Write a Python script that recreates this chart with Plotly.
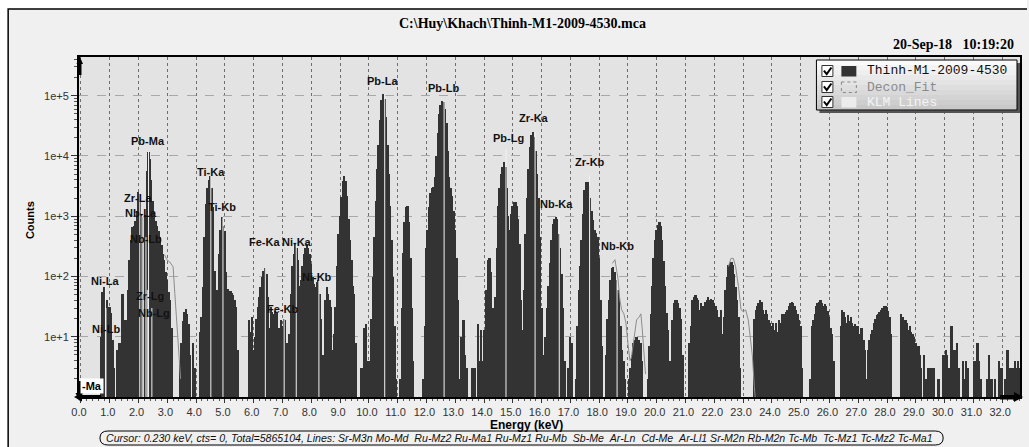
import numpy as np
import plotly.graph_objects as go

# ---------------------------------------------------------------- data
CHANNEL_WIDTH_KEV = 0.05   # display channel width (keV)

# counts per 0.05 keV channel
counts_0_4kev = [
    0, 0, 0, 0, 0, 0, 0, 0, 0, 0, 0, 0, 0, 0, 10, 56, 66, 63, 40, 28,
    31, 25, 9, 3, 0, 6, 5, 8, 3, 51, 12, 19, 4, 60, 190, 400, 660, 700, 850, 1200,
    2500, 1800, 1100, 960, 1000, 1050, 5700, 11500, 9000, 4000, 1800, 1000, 820, 700, 580, 450, 330, 240, 185, 120,
    86, 55, 40, 14, 0, 0, 0, 0, 0, 4, 8, 18, 26, 29, 24, 16, 5, 0, 8, 3,
]
counts_4_8kev = [
    0, 0, 0, 12, 21, 66, 450, 1600, 3000, 4000, 4700, 3000, 1400, 125, 10, 60, 240, 600, 960, 700,
    580, 120, 62, 56, 58, 54, 50, 40, 31, 6, 0, 0, 0, 0, 0, 0, 0, 19, 12, 21,
    6, 10, 20, 31, 45, 66, 100, 125, 141, 110, 45, 14, 31, 26, 24, 27, 25, 10, 14, 19,
    15, 20, 19, 8, 5, 11, 51, 150, 240, 340, 300, 185, 70, 86, 150, 240, 300, 350, 300, 240,
]
counts_8_12kev = [
    160, 98, 75, 66, 80, 86, 51, 20, 5, 0, 40, 66, 51, 40, 31, 6, 11, 31, 150, 500,
    1000, 2050, 3900, 4700, 3800, 2200, 900, 400, 185, 70, 51, 8, 0, 0, 0, 3, 0, 14, 16, 4,
    4, 2, 20, 100, 450, 1800, 6000, 15000, 40000, 85000, 105000, 90000, 45000, 15000, 5000, 1500, 400, 100, 15, 2,
    0, 0, 2, 30, 250, 800, 1400, 1500, 800, 200, 30, 4, 0, 0, 0, 0, 0, 0, 2, 15,
]
counts_12_16kev = [
    300, 600, 1450, 2400, 2900, 3100, 4500, 10000, 24000, 50000, 70000, 83000, 80000, 60000, 35000, 12000, 4500, 3000, 2200, 1200,
    600, 200, 40, 2, 10, 10, 19, 5, 3, 0, 0, 0, 3, 3, 3, 0, 16, 4, 13, 4,
    13, 10, 60, 190, 200, 120, 30, 13, 46, 300, 1500, 3000, 5000, 6600, 8000, 6500, 3000, 1000, 600, 1100,
    1500, 1740, 1700, 1500, 900, 350, 40, 13, 60, 500, 2000, 6000, 14000, 22000, 25000, 21000, 12000, 5000, 2000, 450,
]
counts_16_20kev = [
    30, 5, 2, 10, 30, 70, 165, 400, 750, 900, 980, 900, 500, 300, 112, 30, 4, 1, 0, 3,
    10, 8, 0, 0, 2, 15, 60, 150, 400, 1100, 2700, 3700, 3750, 3200, 2000, 1200, 870, 600, 520, 460,
    200, 40, 7, 0, 0, 5, 20, 40, 87, 140, 145, 120, 87, 60, 46, 15, 6, 4, 2, 0,
    1, 2, 3, 5, 8, 9, 10, 9, 9, 8, 4, 1, 0, 0, 2, 7, 24, 70, 200, 400,
]
counts_20_24kev = [
    600, 715, 810, 700, 400, 180, 70, 25, 13, 4, 2, 19, 36, 41, 40, 36, 30, 20, 5, 0,
    0, 0, 0, 8, 15, 41, 46, 49, 44, 41, 28, 36, 32, 28, 38, 41, 46, 41, 43, 40,
    36, 32, 28, 21, 15, 28, 11, 21, 60, 100, 155, 170, 176, 155, 112, 68, 41, 21, 3, 1,
    0, 0, 0, 0, 0, 0, 0, 0, 20, 28, 32, 36, 41, 38, 28, 24, 28, 24, 19, 17,
]
counts_24_28kev = [
    15, 17, 13, 17, 12, 19, 17, 24, 22, 24, 26, 28, 32, 36, 38, 36, 32, 28, 24, 19,
    15, 3, 0, 0, 0, 0, 0, 2, 15, 19, 24, 32, 36, 38, 41, 37, 33, 35, 32, 27,
    21, 14, 11, 4, 0, 0, 0, 0, 15, 28, 26, 21, 17, 23, 18, 21, 17, 15, 16, 15,
    15, 11, 14, 14, 9, 6, 2, 6, 9, 11, 13, 17, 20, 23, 24, 26, 28, 30, 32, 33,
]
counts_28_33kev = [
    31, 27, 21, 11, 0, 0, 0, 0, 0, 0, 24, 21, 17, 19, 17, 13, 15, 12, 11, 10,
    8, 7, 7, 5, 3, 0, 5, 2, 2, 3, 3, 3, 3, 3, 0, 0, 2, 0, 0, 5,
    5, 6, 5, 3, 3, 15, 6, 6, 6, 8, 3, 0, 0, 4, 2, 4, 3, 0, 0, 0,
    0, 4, 4, 8, 4, 2, 0, 0, 0, 0, 2, 5, 2, 2, 0, 2, 0, 0, 4, 3,
    3, 0, 2, 2, 6, 3, 3, 2, 3, 4, 3, 4, 3,
]

# Decon_Fit segments visible above the bars (grey line)
fit_energy_a = [2.90, 3.00, 3.08, 3.15, 3.20, 3.26, 3.32, 3.36, 3.41, 3.46]
fit_counts_a = [230, 185, 175, 160, 145, 52, 19, 14, 5, 2]
fit_energy_b = [18.46, 18.55, 18.61, 18.66, 18.72, 18.78, 18.86, 18.93, 19.01, 19.07,
                19.12, 19.22, 19.30, 19.38, 19.45, 19.50, 19.56, 19.61]
fit_counts_b = [165, 190, 128, 87, 41, 28, 24, 17, 7, 4, 4.5, 11, 19, 21, 24, 13, 5, 2.4]
fit_energy_c = [22.49, 22.58, 22.66, 22.74, 22.84, 22.93, 23.01, 23.09, 23.18, 23.25, 23.32, 23.39, 23.42]
fit_counts_c = [146, 200, 200, 146, 68, 28, 26, 28, 19, 9, 5, 1.5, 1]

# KLM marker lines
klm_names = ["Ni-La", "Ni-Lb", "Zr-La", "Zr-Lb", "Nb-La", "Nb-Lb", "Zr-Lg", "Pb-Ma", "Nb-Lg",
             "Ti-Ka", "Ti-Kb", "Fe-Ka", "Fe-Kb", "Ni-Ka", "Ni-Kb", "Pb-La", "Pb-Lb", "Pb-Lg",
             "Zr-Ka", "Nb-Ka", "Zr-Kb", "Nb-Kb"]
klm_energy = [0.851, 0.868, 2.042, 2.124, 2.166, 2.257, 2.302, 2.346, 2.462,
              4.511, 4.932, 6.404, 7.058, 7.478, 8.265, 10.551, 12.614, 14.764,
              15.775, 16.615, 17.668, 18.623]
klm_height = [66, 30, 2500, 1000, 1000, 450, 60, 12000, 30,
              4700, 960, 141, 20, 350, 86, 105000, 83000, 13000,
              25000, 980, 4800, 170]

# line labels: text, energy (keV), log10(counts) of the label centre
line_labels = ["Pb-La", "Pb-Lb", "Zr-Ka", "Pb-Lg", "Zr-Kb", "Nb-Ka", "Nb-Kb", "Pb-Ma",
               "Ti-Ka", "Ti-Kb", "Zr-La", "Nb-La", "Nb-Lb", "Zr-Lg", "Nb-Lg",
               "Ni-La", "Ni-Lb", "Fe-Ka", "Ni-Ka", "Fe-Kb", "Ni-Kb"]
line_label_energy = [10.47, 12.58, 15.74, 14.84, 17.68, 16.53, 18.65, 2.32,
                     4.50, 4.89, 1.98, 2.10, 2.25, 2.39, 2.53,
                     0.83, 0.87, 6.38, 7.49, 7.00, 8.21]
line_label_log = [5.24, 5.13, 4.63, 4.30, 3.90, 3.20, 2.50, 4.25,
                  3.73, 3.15, 3.30, 3.05, 2.62, 1.68, 1.39,
                  1.93, 1.13, 2.57, 2.57, 1.46, 2.00]

x_tick_values = list(range(0, 33))
x_tick_labels = [f"{v:.1f}" for v in x_tick_values]
y_tick_values = [10, 100, 1000, 10000, 100000]
y_tick_labels = ["1e+1", "1e+2", "1e+3", "1e+4", "1e+5"]
y_minor_values = [m * 10 ** d for d in range(0, 6) for m in range(2, 10)]

spectrum_counts = (counts_0_4kev + counts_4_8kev + counts_8_12kev + counts_12_16kev +
                   counts_16_20kev + counts_20_24kev + counts_24_28kev + counts_28_33kev)
spectrum_energy = np.round(np.arange(len(spectrum_counts)) * CHANNEL_WIDTH_KEV, 2)

# ---------------------------------------------------------------- layout helpers
W, H = 1029, 447
L, R, T, B = 79, 1022, 57, 397


def X(px):
    return (px - L) / (R - L)


def Y(py):
    return (B - py) / (B - T)


SANS = "Liberation Sans"
SERIF = "Liberation Serif"
MONO = "Liberation Mono"

fig = go.Figure()

fig.add_trace(go.Bar(
    x=spectrum_energy, y=spectrum_counts, width=CHANNEL_WIDTH_KEV * 1.3,
    marker=dict(color="#333333", line=dict(width=0)),
    name="Thinh-M1-2009-4530", showlegend=False, hoverinfo="x+y"))

klm_x, klm_y = [], []
for e, h in zip(klm_energy, klm_height):
    klm_x += [e, e, None]
    klm_y += [1, h, None]
fig.add_trace(go.Scatter(x=klm_x, y=klm_y, mode="lines",
                         line=dict(color="#f2f2f2", width=1),
                         name="KLM Lines", showlegend=False, hoverinfo="skip"))

fig.add_trace(go.Scatter(
    x=fit_energy_a + [None] + fit_energy_b + [None] + fit_energy_c,
    y=fit_counts_a + [None] + fit_counts_b + [None] + fit_counts_c,
    mode="lines", line=dict(color="#8c8c8c", width=1),
    name="Decon_Fit", showlegend=False, connectgaps=False))

annotations = []
for t, e, lg in zip(line_labels, line_label_energy, line_label_log):
    annotations.append(dict(x=e, y=lg, xref="x", yref="y", text=f"<b>{t}</b>",
                            showarrow=False, font=dict(family=SANS, size=11, color="#111")))


def pann(px, py, text, size=11, family=SANS, color="#000", xanchor="center", **kw):
    d = dict(x=X(px), y=Y(py), xref="paper", yref="paper", text=text, showarrow=False,
             xanchor=xanchor, yanchor="middle", font=dict(family=family, size=size, color=color))
    d.update(kw)
    annotations.append(d)


pann(523, 24, r"<b>C:\Huy\Khach\Thinh-M1-2009-4530.mca</b>", size=14, family=SERIF)
pann(1018, 45, "<b>20-Sep-18 \u00a0\u00a010:19:20</b>", size=14, family=SERIF, xanchor="right")
pann(30, 220, "<b>Counts</b>", size=11, textangle=-90)
pann(527, 425, "<b>Energy (keV)</b>", size=12)
pann(92, 386, "<b>-Ma</b>", size=11, bgcolor="#ffffff")
status = ("Cursor: 0.230 keV, cts= 0, Total=5865104, Lines: Sr-M3n Mo-Md \u00a0Ru-Mz2 Ru-Ma1 "
          "Ru-Mz1 Ru-Mb \u00a0Sb-Me \u00a0Ar-Ln \u00a0Cd-Me \u00a0Ar-Ll1 Sr-M2n Rb-M2n Tc-Mb \u00a0"
          "Tc-Mz1 Tc-Mz2 Tc-Ma1")
pann(104, 438, f"<i>{status}</i>", size=10.6, xanchor="left", color="#111")

# legend texts
pann(867, 71, "Thinh-M1-2009-4530", size=13, family=MONO, xanchor="left", color="#111")
pann(867, 87, "Decon_Fit", size=13, family=MONO, xanchor="left", color="#8a8a8a")
pann(867, 102, "KLM Lines", size=13, family=MONO, xanchor="left", color="#f4f4f4")

shapes = []


def rect(x0, y0, x1, y1, fill=None, line_color=None, lw=0, dash=None, layer="above"):
    s = dict(type="rect", xref="paper", yref="paper", x0=X(x0), x1=X(x1), y0=Y(y0), y1=Y(y1),
             layer=layer, line=dict(width=lw, color=line_color or "rgba(0,0,0,0)"))
    if dash:
        s["line"]["dash"] = dash
    if fill:
        s["fillcolor"] = fill
    shapes.append(s)


def path(points, fill=None, color="#000", lw=0, close=True):
    d = "M " + " L ".join(f"{X(a):.5f},{Y(b):.5f}" for a, b in points)
    if close:
        d += " Z"
    s = dict(type="path", xref="paper", yref="paper", path=d, layer="above",
             line=dict(width=lw, color=color))
    if fill:
        s["fillcolor"] = fill
    shapes.append(s)


# outer white margin and frame
rect(0, 0, W, 9, fill="#ffffff")
rect(0, 0, 8, H, fill="#ffffff")
path([(8, H), (8, 9), (W, 9)], color="#000", lw=1.5, close=False)

# axis arrows
path([(76.5, 64), (79.5, 56), (83, 64)], fill="#000")
rect(77.5, 63, 81.5, 75, fill="#000")
rect(77, 381, 81.5, 394, fill="#000")
path([(75.5, 393), (79.3, 401), (83, 393)], fill="#000")
rect(80, 395, 101, 399, fill="#000")
path([(82, 392.5), (74, 397), (82, 401.5)], fill="#000")
rect(1002, 395, 1017, 399.5, fill="#000")
path([(1016, 392), (1025, 397), (1016, 402)], fill="#000")

# status box with rounded ends
sb = (f"M {X(108):.5f},{Y(431):.5f} L {X(937):.5f},{Y(431):.5f} "
      f"Q {X(945):.5f},{Y(431):.5f} {X(945):.5f},{Y(438):.5f} "
      f"Q {X(945):.5f},{Y(445):.5f} {X(937):.5f},{Y(445):.5f} "
      f"L {X(108):.5f},{Y(445):.5f} Q {X(100):.5f},{Y(445):.5f} {X(100):.5f},{Y(438):.5f} "
      f"Q {X(100):.5f},{Y(431):.5f} {X(108):.5f},{Y(431):.5f} Z")
shapes.append(dict(type="path", xref="paper", yref="paper", path=sb, layer="above",
                   line=dict(width=1, color="#000")))

# legend box: shadow, gradient, border
rect(821, 63, 1022, 113, fill="#555555")
n_strips = 10
for i in range(n_strips):
    y0 = 60 + i * 5
    c = int(250 - i * 5.5)
    rect(818, y0, 1019, y0 + 5.2, fill=f"rgb({c},{c},{c})")
rect(818, 60, 1019, 110, line_color="#000", lw=1)
for cy in (71, 87, 102):
    rect(823.5, cy - 5.5, 834.5, cy + 5.5, fill="#ffffff", line_color="#333", lw=1)
    path([(825.5, cy - 0.5), (828.3, cy + 3), (833, cy - 3.5)], color="#000", lw=2, close=False)
rect(843, 66, 858, 76.5, fill="#333333")
rect(843, 82, 858, 92.5, line_color="#888", lw=1, dash="dot")
rect(843, 97, 858, 107.5, fill="#ececec")

fig.update_layout(
    width=W, height=H,
    margin=dict(l=L, r=W - R, t=T, b=H - B, pad=0),
    paper_bgcolor="#f0f0f0", plot_bgcolor="#e3e3e3",
    bargap=0, showlegend=False,
    annotations=annotations, shapes=shapes,
    xaxis=dict(range=[-0.069, 32.62], tickmode="array", tickvals=x_tick_values,
               ticktext=x_tick_labels, ticks="outside", ticklen=4, tickcolor="#333",
               ticklabelshift=-2,
               tickfont=dict(family=SANS, size=11, color="#333"),
               showgrid=True, gridcolor="#6e6e6e", griddash="dot", gridwidth=1,
               showline=True, linecolor="#000", linewidth=2, mirror=True, zeroline=False,
               minor=dict(ticks="outside", ticklen=2, dtick=0.2, tick0=0, tickcolor="#555",
                          showgrid=False)),
    yaxis=dict(type="log", range=[0, 5.643], tickmode="array", tickvals=y_tick_values,
               ticktext=y_tick_labels, ticks="outside", ticklen=6, tickcolor="#333",
               tickfont=dict(family=SANS, size=11, color="#333"),
               showgrid=True, gridcolor="#a8a8a8", griddash="dash", gridwidth=1,
               showline=True, linecolor="#000", linewidth=2, mirror=True, zeroline=False,
               minor=dict(ticks="outside", ticklen=3, tickvals=y_minor_values,
                          tickcolor="#555", showgrid=False)),
)

fig.write_html("out.html")
